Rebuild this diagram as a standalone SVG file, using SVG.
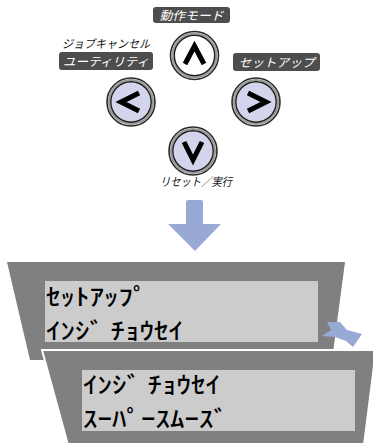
<svg xmlns="http://www.w3.org/2000/svg" width="373" height="443" viewBox="0 0 373 443">
<style>
.badge{fill:#4d4d4d}
.bt{font-family:"Noto Sans CJK JP",sans-serif;font-size:12px;font-style:italic;fill:#ffffff;text-anchor:middle}
.lt{font-family:"Noto Sans CJK JP",sans-serif;font-size:11.5px;font-style:italic;fill:#111111;text-anchor:middle}
.r1{fill:none;stroke:#2a2a2a;stroke-width:1.6}
.r2{fill:none;stroke:#9a9a9a;stroke-width:2.2}
.r3{stroke:#1a1a1a;stroke-width:1.4}
.ico{fill:none;stroke:#000;stroke-width:5;stroke-linejoin:miter;stroke-linecap:butt}
.lcd{font-family:"Noto Sans CJK JP",sans-serif;font-size:23px;font-weight:500;fill:#000}
.outer{fill:#808080}
.inner{fill:#cccccc}
.blue{fill:#99a9d6}
</style>
<g id="label-mode">
<rect class="badge" x="153" y="7" width="77" height="16" rx="3"/>
<text class="bt" x="191.5" y="19.5" textLength="64" lengthAdjust="spacingAndGlyphs">動作モード</text>
</g>
<g id="label-cancel">
<text class="lt" x="106" y="48" textLength="88" lengthAdjust="spacingAndGlyphs">ジョブキャンセル</text>
<rect class="badge" x="59" y="52" width="94" height="18" rx="3"/>
<text class="bt" x="106" y="65.5" textLength="86" lengthAdjust="spacingAndGlyphs">ユーティリティ</text>
</g>
<g id="label-setup">
<rect class="badge" x="233" y="53" width="87" height="18" rx="3"/>
<text class="bt" x="276.5" y="66.5" textLength="76" lengthAdjust="spacingAndGlyphs">セットアップ</text>
</g>
<g id="label-reset">
<text class="lt" x="196" y="186" textLength="72" lengthAdjust="spacingAndGlyphs">リセット／実行</text>
</g>
<g id="btn-up">
<circle class="r1" cx="194.5" cy="55.5" r="24"/>
<circle class="r2" cx="194.5" cy="55.5" r="22"/>
<circle class="r3" cx="194.5" cy="55.5" r="20.2" fill="#ffffff"/>
<polyline class="ico" points="185,64 194.5,46 204,64"/>
</g>
<g id="btn-left">
<circle class="r1" cx="131" cy="102" r="24"/>
<circle class="r2" cx="131" cy="102" r="22"/>
<circle class="r3" cx="131" cy="102" r="20.2" fill="#d2d5ec"/>
<polyline class="ico" points="139,93 121,102 139,111"/>
</g>
<g id="btn-right">
<circle class="r1" cx="256" cy="102" r="24"/>
<circle class="r2" cx="256" cy="102" r="22"/>
<circle class="r3" cx="256" cy="102" r="20.2" fill="#d2d5ec"/>
<polyline class="ico" points="248,93 266,102 248,111"/>
</g>
<g id="btn-down">
<circle class="r1" cx="193" cy="151" r="24"/>
<circle class="r2" cx="193" cy="151" r="22"/>
<circle class="r3" cx="193" cy="151" r="20.2" fill="#d2d5ec"/>
<polyline class="ico" points="184,142 193,160 202,142"/>
</g>
<g id="connectors">
<path class="blue" d="M188,200 L201,200 Q203,200 203,202 L203,224 L221,224 L195,251 L168,224 L186,224 L186,202 Q186,200 188,200 Z"/>
</g>
<g id="panel-1">
<polygon class="outer" points="7,262 345,262 332,360 30,360"/>
<rect class="inner" x="45" y="281" width="273" height="61"/>
<text class="lcd" transform="translate(46,305) scale(1.26,1)">ｾｯﾄｱｯﾌﾟ</text>
<text class="lcd" transform="translate(46,339) scale(1.26,1)">ｲﾝｼﾞ ﾁｮｳｾｲ</text>
</g>
<g id="arrow-small">
<polygon class="blue" points="327,322 340,322 347,330 362,334 353,347 346,341 335,337 322,336 331,330"/>
</g>
<g id="panel-2">
<polygon class="outer" points="42,350 376,350 364,445 68,445" stroke="#ffffff" stroke-width="2"/>
<rect class="inner" x="82" y="370" width="273" height="61"/>
<text class="lcd" transform="translate(83,393) scale(1.26,1)">ｲﾝｼﾞ ﾁｮｳｾｲ</text>
<text class="lcd" transform="translate(83,427) scale(1.26,1)">ｽｰﾊﾟｰｽﾑｰｽﾞ</text>
</g>
</svg>
